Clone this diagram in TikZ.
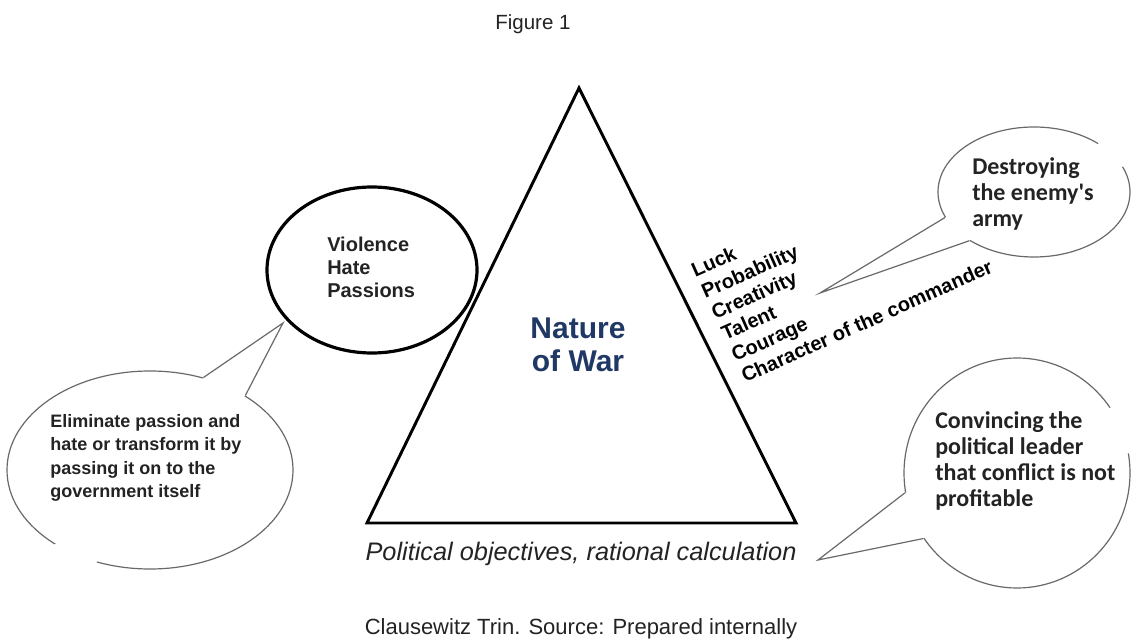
\documentclass[tikz,border=0pt]{standalone}
\usepackage{fontspec}
\setmainfont{Liberation Sans}
\newfontfamily\bubbleFont{Carlito}
\usepackage{xcolor}
\definecolor{warNavy}{RGB}{31, 56, 100}
\definecolor{bubbleGray}{RGB}{105, 105, 105}
\definecolor{inkDark}{RGB}{35, 35, 35}
\usepackage{tikz}
\usetikzlibrary{
    shapes.geometric,
    positioning,
    calc
}

\begin{document}
\begin{tikzpicture}[
    x=0.75pt, y=-0.75pt,
    triEdge/.style={
        draw=black, line width=2.2pt, line join=miter
    },
    forceRing/.style={
        ellipse, draw=black, line width=2.4pt, inner sep=0pt
    },
    bubble/.style={
        ellipse, draw=bubbleGray, line width=0.9pt, fill=white, inner sep=0pt
    },
    tail/.style={
        draw=bubbleGray, line width=0.9pt, line join=miter
    },
    ringText/.style={
        font=\fontsize{15}{17.25}\selectfont\bfseries, text=inkDark,
        align=left, inner sep=0pt
    },
    leftText/.style={
        font=\fontsize{13.5}{17.6}\selectfont\bfseries, text=inkDark,
        align=left, inner sep=0pt
    },
    rightText/.style={
        font=\bubbleFont\fontsize{18}{19.5}\selectfont\bfseries, text=inkDark,
        align=left, inner sep=0pt
    },
    factor/.style={
        font=\fontsize{15}{17}\selectfont\bfseries, text=black,
        rotate=24, anchor=base west, inner sep=0pt
    },
    plainText/.style={
        font=\fontsize{16.5}{19}\selectfont, text=inkDark, inner sep=0pt
    }
]

    \useasboundingbox[fill=white] (0,0) rectangle (1132,641);

    % Title
    \node[plainText, font=\fontsize{15.4}{18}\selectfont, anchor=base west] (title) at (495,30) {Figure 1};

    % Triangle
    \coordinate (apex) at (579,88);
    \coordinate (baseL) at (367,523);
    \coordinate (baseR) at (796,523);
    \draw[triEdge] (apex) -- (baseL) -- (baseR) -- cycle;

    \node[font=\fontsize{22.5}{24.75}\selectfont\bfseries, text=warNavy, align=center,
          inner sep=0pt, anchor=north] (nature) at (578,318) {Nature\\of War};

    \node[plainText, font=\fontsize{19}{21}\selectfont\itshape, anchor=base] (politics)
        at (581,560) {Political objectives, rational calculation};

    % Violence, hate, passions
    \node[forceRing, minimum width=157.5pt, minimum height=124.5pt] (people) at (372,270) {};
    \node[ringText, anchor=north west] (peopleTxt) at (327,237) {Violence\\Hate\\Passions};

    % Chance and probability
    \foreach \factorName [count=\i] in {Luck, Probability, Creativity, Talent, Courage, Character of the commander}
        \node[factor] (factor\i) at ({695+10*(\i-1)}, {278+21*(\i-1)}) {\factorName};

    % Speech bubbles
    \node[bubble, minimum width=214.5pt, minimum height=148.5pt] (bubPeople) at (150,470) {};
    \node[bubble, minimum width=144pt, minimum height=97.5pt] (bubArmy) at (1034,192) {};
    \node[bubble, minimum width=169.5pt, minimum height=172.5pt] (bubLeader) at (1017,473) {};

    \coordinate (tipPeople) at (283,323);
    \coordinate (tipArmy) at (820,293);
    \coordinate (tipLeader) at (818,560);

    \fill[white] (tipPeople) -- (bubPeople.60) -- ($(bubPeople.60)!3!(bubPeople.center)$)
        -- ($(bubPeople.38)!3!(bubPeople.center)$) -- (bubPeople.38) -- cycle;
    \draw[tail] (bubPeople.60) -- (tipPeople) -- (bubPeople.38);

    \fill[white] (tipArmy) -- (bubArmy.196) -- ($(bubArmy.196)!3!(bubArmy.center)$)
        -- ($(bubArmy.217)!3!(bubArmy.center)$) -- (bubArmy.217) -- cycle;
    \draw[tail] (bubArmy.196) -- (tipArmy) -- (bubArmy.217);

    \fill[white] (tipLeader) -- (bubLeader.190) -- ($(bubLeader.190)!3!(bubLeader.center)$)
        -- ($(bubLeader.215)!3!(bubLeader.center)$) -- (bubLeader.215) -- cycle;
    \draw[tail] (bubLeader.190) -- (tipLeader) -- (bubLeader.215);

    \node[leftText, anchor=north west] (peopleNote) at (50,414)
        {Eliminate passion and\\hate or transform it by\\passing it on to the\\government itself};
    \node[rightText, anchor=north west] (armyNote) at (972,157)
        {Destroying\\the enemy\textquotesingle s\\army};
    \node[rightText, anchor=north west] (leaderNote) at (935,411)
        {Convincing the\\political leader\\that conflict is not\\profitable};

    % Caption
    \node[plainText, anchor=base] (caption) at (581,634) {Clausewitz Trin. Source: Prepared internally};

\end{tikzpicture}
\end{document}
